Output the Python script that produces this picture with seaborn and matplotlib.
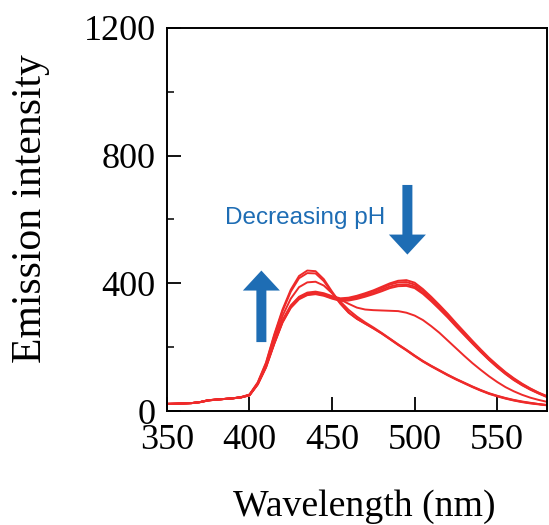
import matplotlib
matplotlib.use("Agg")
import matplotlib.pyplot as plt
from matplotlib.ticker import MultipleLocator
import pandas as pd
import seaborn as sns

# Emission spectra recorded at 5 nm steps, 350-580 nm
wavelength = list(range(350, 585, 5))

spec_a1 = [23, 23, 24, 25, 28, 34, 36, 38, 40, 44,
           52, 90, 152, 240, 318, 380, 423, 440, 438, 413,
           374, 338, 309, 289, 274, 259, 243, 225, 207, 190,
           172, 155, 140, 126, 112, 99, 87, 75, 64, 54,
           46, 39, 33, 28, 24, 21, 18]
spec_a2 = [22, 23, 24, 25, 28, 33, 36, 38, 40, 43,
           51, 88, 149, 236, 313, 374, 416, 432, 431, 407,
           370, 336, 308, 289, 274, 259, 243, 226, 208, 191,
           173, 156, 141, 127, 113, 100, 88, 76, 65, 55,
           47, 40, 34, 29, 25, 22, 19]
spec_b = [23, 23, 24, 25, 28, 34, 36, 38, 40, 43,
          51, 86, 145, 225, 298, 352, 388, 403, 405, 393,
          369, 343, 317, 296, 278, 262, 245, 227, 209, 192,
          174, 157, 142, 128, 114, 101, 89, 77, 66, 56,
          48, 41, 35, 30, 26, 22, 19]
spec_d = [22, 23, 24, 25, 28, 34, 36, 38, 40, 43,
          50, 85, 140, 214, 281, 327, 354, 367, 370, 365,
          357, 349, 336, 324, 318, 316, 315, 314, 313, 308,
          299, 285, 266, 245, 221, 197, 173, 150, 129, 109,
          91, 75, 62, 51, 42, 35, 29]
spec_c1 = [23, 23, 24, 25, 28, 34, 36, 38, 40, 44,
           50, 86, 142, 218, 285, 331, 358, 371, 374, 369,
           360, 353, 355, 361, 369, 378, 389, 400, 408, 410,
           402, 382, 358, 332, 305, 276, 248, 220, 193, 167,
           144, 122, 103, 86, 71, 58, 47]
spec_c2 = [22, 23, 24, 25, 28, 34, 36, 38, 40, 43,
           50, 85, 140, 215, 282, 328, 355, 368, 371, 366,
           357, 350, 352, 358, 366, 375, 385, 396, 403, 404,
           396, 377, 353, 327, 300, 271, 244, 216, 189, 164,
           141, 120, 101, 84, 70, 57, 46]
spec_c3 = [22, 23, 24, 25, 28, 33, 36, 38, 40, 43,
           49, 84, 138, 212, 279, 325, 352, 365, 368, 363,
           354, 347, 349, 354, 362, 370, 380, 390, 396, 397,
           390, 371, 348, 322, 296, 267, 240, 213, 186, 161,
           138, 117, 98, 82, 68, 56, 45]
spec_c4 = [22, 23, 24, 25, 28, 33, 36, 38, 40, 43,
           49, 83, 136, 210, 277, 323, 350, 363, 366, 361,
           352, 345, 346, 351, 358, 366, 375, 385, 391, 392,
           385, 367, 344, 319, 293, 265, 238, 211, 185, 160,
           137, 116, 97, 81, 67, 55, 44]

spectra = {"a1": spec_a1, "a2": spec_a2, "b": spec_b, "d": spec_d,
           "c1": spec_c1, "c2": spec_c2, "c3": spec_c3, "c4": spec_c4}

x_ticks = [350, 400, 450, 500, 550]
y_ticks = [0, 400, 800, 1200]

RED = "#EE2A2A"
BLUE = "#1E6DB4"

frames = [pd.DataFrame({"wavelength": wavelength, "intensity": v, "spectrum": k})
          for k, v in spectra.items()]
df = pd.concat(frames, ignore_index=True)

sns.set_theme(style="ticks")
plt.rcParams["font.family"] = ["Liberation Serif", "DejaVu Serif"]

fig = plt.figure(figsize=(5.49, 5.25), dpi=100)
ax = fig.add_axes([0.304, 0.217, 0.692, 0.730])

sns.lineplot(data=df, x="wavelength", y="intensity", units="spectrum",
             estimator=None, sort=False, color=RED, lw=1.4, ax=ax, legend=False)

ax.set_xlim(350, 580)
ax.set_ylim(0, 1200)
ax.set_xticks(x_ticks)
ax.set_yticks(y_ticks)
ax.yaxis.set_minor_locator(MultipleLocator(200))
ax.tick_params(axis="both", which="major", direction="in", length=10, width=1.3,
               labelsize=26, color="black", labelcolor="black", pad=8)
ax.tick_params(axis="x", which="major", pad=9.5)
ax.tick_params(axis="y", which="minor", direction="in", length=5, width=1.3)
for s in ax.spines.values():
    s.set_linewidth(1.4)
    s.set_color("black")

ax.set_xlabel("Wavelength (nm)", fontsize=27.2, color="black")
ax.set_ylabel("Emission intensity", fontsize=30, color="black")
ax.xaxis.set_label_coords(0.52, -0.205)
ax.yaxis.set_label_coords(-0.308, 0.529)

# pH trend arrows and caption
arrow_style = "simple,head_length=1.0,head_width=1.85,tail_width=0.5"
ax.annotate("", xy=(407.2, 440), xytext=(407.2, 216),
            arrowprops=dict(arrowstyle=arrow_style, mutation_scale=14.4,
                            color=BLUE, shrinkA=0, shrinkB=0, lw=0))
ax.annotate("", xy=(495.6, 490), xytext=(495.6, 708),
            arrowprops=dict(arrowstyle=arrow_style, mutation_scale=14.4,
                            color=BLUE, shrinkA=0, shrinkB=0, lw=0))
ax.text(385, 603, "Decreasing pH", color=BLUE, fontsize=17.5,
        family=["Liberation Sans", "DejaVu Sans"], ha="left", va="center")

fig.savefig("out.png", dpi=100)
